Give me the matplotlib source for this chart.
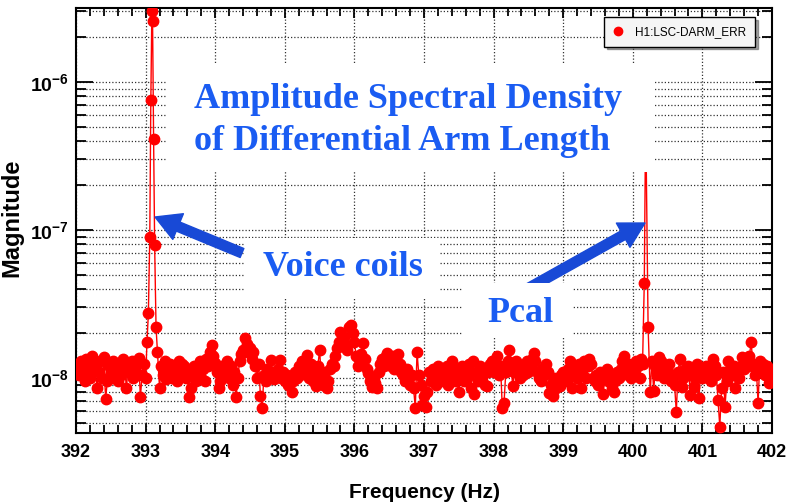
import numpy as np
import matplotlib
matplotlib.use("Agg")
import matplotlib.pyplot as plt
from matplotlib import font_manager
from matplotlib.patches import Rectangle
from matplotlib.lines import Line2D
from matplotlib.ticker import FixedLocator, FuncFormatter, MultipleLocator, NullFormatter

# ---- data (magnitude in units of 1e-8) ----
f_start = 392.0
f_step = 0.025
noise_mag = [
    # 392.0 - 392.475
    1.15, 1.25, 1.05, 1.3, 1.1, 0.95, 1.35, 1.2, 1.0, 1.4, 1.15, 1.25, 0.86, 1.1, 1.3, 1.0, 1.39, 0.72, 0.95, 1.2,
    # 392.5 - 392.975
    1.1, 1.3, 1.0, 1.2, 0.95, 1.25, 1.05, 1.35, 1.15, 0.86, 1.2, 1.1, 1.3, 1.0, 1.15, 1.05, 1.36, 0.74, 1.05, 1.25,
    # 393.0 - 393.475 (peak points listed separately)
    1.0, np.nan, np.nan, np.nan, np.nan, np.nan, np.nan, np.nan, 0.86, 1.2, 1.05, 1.3, 0.98, 1.15, 1.25, 1.0, 1.2, 1.1, 0.95, 1.3,
    # 393.5 - 393.975
    1.1, 1.25, 1.2, 1.0, 1.15, 0.74, 0.86, 1.05, 1.2, 0.95, 1.1, 1.3, 1.0, 1.15, 0.95, 1.35, 1.2, 1.5, 1.67, 1.4,
    # 394.0 - 394.475
    1.26, 1.1, 0.86, 0.95, 1.2, 1.05, 1.15, 1.3, 1.0, 1.2, 0.9, 1.1, 0.74, 1.0, 1.3, 1.45, 1.55, 1.86, 1.7, 1.5,
    # 394.5 - 394.975
    1.6, 1.35, 1.5, 1.2, 1.0, 1.25, 0.75, 0.63, 1.05, 0.95, 1.15, 1.0, 1.32, 1.1, 0.98, 1.05, 1.15, 1.32, 1.0, 1.1,
    # 395.0 - 395.475
    0.95, 1.05, 0.9, 1.0, 0.8, 0.95, 1.1, 1.0, 1.2, 1.05, 1.3, 1.1, 1.2, 1.43, 1.0, 1.25, 0.95, 1.1, 0.88, 1.2,
    # 395.5 - 395.975
    1.55, 1.0, 0.9, 1.1, 0.86, 0.95, 1.15, 1.25, 1.2, 1.4, 1.6, 1.75, 2.05, 1.8, 1.9, 1.65, 1.55, 2.2, 2.28, 2.0,
    # 396.0 - 396.475
    1.75, 1.4, 1.2, 1.3, 1.45, 1.72, 1.35, 1.15, 1.08, 0.95, 0.87, 1.0, 0.92, 0.86, 1.1, 1.25, 1.35, 1.2, 1.4, 1.47,
    # 396.5 - 396.975
    1.3, 1.2, 1.4, 1.15, 1.3, 1.45, 1.25, 1.1, 1.05, 0.95, 1.15, 0.98, 0.9, 1.05, 0.85, 0.63, 1.5, 1.05, 0.9, 0.66,
    # 397.0 - 397.475
    0.75, 0.64, 0.8, 1.1, 0.95, 1.15, 1.05, 0.9, 1.2, 1.1, 0.95, 1.15, 1.0, 1.2, 0.9, 1.1, 1.3, 1.05, 0.95, 1.15,
    # 397.5 - 397.975
    0.8, 1.05, 1.2, 0.95, 1.1, 1.0, 1.25, 0.85, 1.3, 0.78, 1.1, 0.95, 1.2, 1.0, 1.15, 0.9, 0.88, 1.1, 1.25, 1.3,
    # 398.0 - 398.475
    1.1, 1.25, 1.4, 1.05, 1.2, 0.63, 0.68, 1.1, 1.3, 1.55, 1.2, 0.88, 1.1, 1.3, 1.15, 1.0, 1.2, 1.05, 1.25, 1.3,
    # 398.5 - 398.975
    1.1, 1.2, 1.35, 1.47, 1.3, 1.1, 1.0, 0.95, 1.15, 1.05, 1.25, 1.1, 0.79, 0.9, 0.75, 1.0, 0.85, 0.95, 0.88, 1.05,
    # 399.0 - 399.475
    1.1, 0.95, 1.0, 1.15, 1.3, 0.85, 1.05, 1.15, 1.0, 1.25, 0.85, 1.1, 1.3, 1.0, 1.2, 1.35, 1.25, 1.0, 0.95, 1.05,
    # 399.5 - 399.975
    0.9, 1.1, 1.0, 0.78, 1.05, 1.15, 0.95, 1.05, 0.85, 0.8, 0.95, 1.1, 1.0, 1.15, 1.3, 1.4, 1.2, 1.05, 1.25, 1.0,
    # 400.0 - 400.475 (peak points listed separately)
    1.15, 1.05, 1.3, 1.2, 1.0, 1.35, np.nan, np.nan, np.nan, np.nan, 0.8, 1.3, 0.82, 1.2, 1.05, 1.39, 1.3, 1.15, 1.0, 1.2,
    # 400.5 - 400.975
    1.1, 1.25, 0.95, 1.05, 0.9, 0.59, 1.1, 1.35, 0.87, 1.0, 1.15, 1.05, 1.2, 0.77, 1.1, 0.87, 1.0, 1.25, 0.73, 1.15,
    # 401.0 - 401.475
    1.0, 1.05, 1.2, 1.0, 1.15, 0.95, 1.35, 1.2, 1.05, 0.71, 0.47, 0.85, 1.1, 0.64, 0.95, 1.3, 1.15, 1.05, 1.2, 0.85,
    # 401.5 - 401.975
    1.1, 1.0, 1.2, 1.38, 1.15, 1.3, 1.2, 1.4, 1.75, 1.25, 1.05, 1.15, 0.68, 1.3, 1.15, 1.25, 1.05, 1.2, 0.92, 1.1,
    # 402.0
    1.05,
]

# voice coil line near 393.1 Hz
peak1_freq = [393.02, 393.04, 393.06, 393.075, 393.09, 393.1, 393.115, 393.13, 393.15, 393.17]
peak1_mag = [1.75, 2.75, 8.9, 75, 300, 260, 41, 7.9, 2.2, 1.5]
# pcal line near 400.2 Hz
peak2_freq = [400.14, 400.165, 400.185, 400.22]
peak2_mag = [1.25, 4.4, 60, 2.2]

legend_label = "H1:LSC-DARM_ERR"

noise_freq = f_start + f_step * np.arange(len(noise_mag))
noise_mag = np.array(noise_mag)
keep = ~np.isnan(noise_mag)
freq = np.concatenate([noise_freq[keep], peak1_freq, peak2_freq])
mag = np.concatenate([noise_mag[keep], peak1_mag, peak2_mag]) * 1e-8
order = np.argsort(freq)
freq = freq[order]
mag = mag[order]

# ---- fonts ----
names = {f.name for f in font_manager.fontManager.ttflist}
narrow = "Liberation Sans Narrow" if "Liberation Sans Narrow" in names else "Liberation Sans"
plt.rcParams["font.family"] = [narrow, "DejaVu Sans"]
plt.rcParams["mathtext.fontset"] = "custom"
plt.rcParams["mathtext.rm"] = narrow
plt.rcParams["mathtext.bf"] = narrow + ":bold"

W, H = 787, 503
fig = plt.figure(figsize=(W / 100, H / 100), dpi=100)
fig.patch.set_facecolor("white")


def fx(x):
    return x / W


def fy(y):
    return 1 - y / H


ax = fig.add_axes([fx(76), fy(433), fx(772) - fx(76), fy(8) - fy(433)])

ax.plot(freq, mag, color="#ff0000", lw=1.0, marker="o", ms=7.5, mec="#ff0000", mfc="#ff0000", zorder=3)

ax.set_yscale("log")
ax.set_xlim(392, 402)
ax.set_ylim(4.25e-9, 3.16e-6)

ax.xaxis.set_major_locator(MultipleLocator(1))
ax.xaxis.set_minor_locator(MultipleLocator(0.2))
ax.yaxis.set_major_locator(FixedLocator([1e-8, 1e-7, 1e-6]))
minors = [m * 10.0 ** e for e in (-9, -8, -7, -6) for m in range(2, 10)]
ax.yaxis.set_minor_locator(FixedLocator(minors))
ax.yaxis.set_minor_formatter(NullFormatter())
ax.yaxis.set_major_formatter(FuncFormatter(lambda v, p: r"$\mathbf{10^{%d}}$" % round(np.log10(v))))

ax.tick_params(which="both", direction="in", top=True, right=True, width=1.3, color="black")
ax.tick_params(axis="x", which="major", length=7, labelsize=13, pad=8)
ax.tick_params(axis="x", which="minor", length=6)
ax.tick_params(axis="y", which="major", length=12, labelsize=14, pad=5)
ax.tick_params(axis="y", which="minor", length=7)
for lab in ax.get_xticklabels():
    lab.set_fontweight("bold")

for s in ax.spines.values():
    s.set_linewidth(1.5)

grid_style = dict(color="#333333", linestyle=(0, (1, 1.6)), linewidth=0.9)
ax.grid(True, axis="x", which="major", **grid_style)
ax.grid(True, axis="y", which="both", **grid_style)
ax.set_axisbelow(True)

ax.set_xlabel("Frequency (Hz)", fontsize=15, fontweight="bold", family=["Liberation Sans", "DejaVu Sans"], labelpad=16)
ax.set_ylabel("Magnitude", fontsize=17, fontweight="bold", family=["Liberation Sans", "DejaVu Sans"])
ax.yaxis.set_label_coords((23 - 76) / 696, (433 - 218) / 425)

leg = ax.legend(handles=[Line2D([], [], ls="none", marker="o", ms=6, color="#ff0000")],
                labels=[legend_label], loc="upper right",
                bbox_to_anchor=(fx(755), fy(17)), bbox_transform=fig.transFigure,
                fancybox=False, shadow=True, framealpha=1, facecolor="#f5f5f5", edgecolor="black",
                fontsize=8.5, handlelength=1.0, handletextpad=0.9, borderpad=0.75, borderaxespad=0)
leg.get_frame().set_linewidth(1.0)

# white boxes behind the annotation texts
for x0, y0, x1, y1 in [(167, 63, 653, 172), (245, 238, 440, 298), (463, 283, 573, 338)]:
    fig.add_artist(Rectangle((fx(x0), fy(y1)), fx(x1) - fx(x0), fy(y0) - fy(y1),
                             transform=fig.transFigure, facecolor="white", edgecolor="none", zorder=5))

blue = "#1a5cf2"
serif = ["Liberation Serif", "DejaVu Serif"]
txt = dict(color=blue, fontsize=26, fontweight="bold", family=serif, ha="center", va="center", zorder=7)
fig.text(fx(408), fy(100), "Amplitude Spectral Density", **txt)
fig.text(fx(402), fy(142), "of Differential Arm Length", **txt)
fig.text(fx(343), fy(268), "Voice coils", **txt)
fig.text(fx(520), fy(313), "Pcal", **txt)

arrow_color = "#1849d6"
arrowprops = dict(arrowstyle="simple,head_length=0.9,head_width=1.0,tail_width=0.35",
                  mutation_scale=20, color=arrow_color, shrinkA=0, shrinkB=0)
for tail, tip in [((242, 253), (155, 217)), ((520, 293), (645, 223))]:
    ann = ax.annotate("", xy=(tip[0], H - tip[1]), xytext=(tail[0], H - tail[1]),
                      xycoords="figure pixels", textcoords="figure pixels", arrowprops=arrowprops,
                      annotation_clip=False)
    ann.set_zorder(8)
    ann.arrow_patch.set_zorder(8)
    ann.arrow_patch.set_clip_on(False)

fig.savefig("out.png", dpi=100)
